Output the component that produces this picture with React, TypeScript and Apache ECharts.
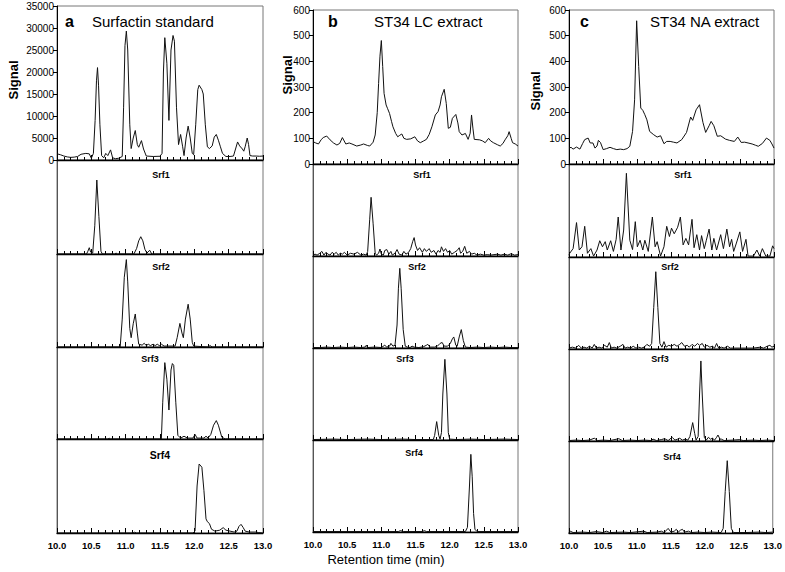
import React, { useEffect, useRef } from "react";
import * as echarts from "echarts";

// ---------- data (retention time, signal) ----------
const aTop: number[][] = [[10.0,1400],[10.05,1200],[10.1,900],[10.15,700],[10.2,600],[10.25,650],[10.3,800],[10.35,1300],[10.42,1500],[10.47,1400],[10.5,400],[10.53,1500],[10.555,9000],[10.575,18000],[10.59,21000],[10.605,17000],[10.625,8000],[10.65,1000],[10.68,500],[10.71,1500],[10.74,1000],[10.78,2300],[10.81,500],[10.85,300],[10.9,400],[10.95,800],[10.97,12000],[10.99,26000],[11.01,29300],[11.03,25000],[11.06,8000],[11.08,2600],[11.11,5000],[11.14,6700],[11.17,3500],[11.19,2900],[11.23,4400],[11.26,2500],[11.3,900],[11.4,800],[11.5,850],[11.53,1500],[11.55,20000],[11.57,27800],[11.6,22000],[11.63,9000],[11.66,25000],[11.69,28300],[11.71,27000],[11.74,12000],[11.77,3500],[11.8,5800],[11.83,3000],[11.85,1000],[11.88,5000],[11.91,7700],[11.94,5000],[11.97,1500],[11.99,1200],[12.02,8000],[12.05,16000],[12.07,17000],[12.11,16000],[12.13,15000],[12.16,8000],[12.19,3000],[12.22,2600],[12.26,3200],[12.29,5200],[12.32,5800],[12.35,4500],[12.38,3000],[12.41,1500],[12.46,800],[12.52,800],[12.57,900],[12.6,2500],[12.63,4100],[12.66,3200],[12.7,2500],[12.72,2000],[12.74,3000],[12.77,5000],[12.79,3500],[12.81,1000],[12.85,900],[12.9,900],[12.95,850],[13.0,900]];
const aSrf1: number[][] = [[10.0,0],[10.43,0],[10.45,3],[10.47,6.7],[10.49,2],[10.52,1],[10.55,30],[10.58,78.7],[10.61,40],[10.64,3],[10.66,0],[10.84,0],[10.86,1],[10.88,0],[11.12,0],[11.16,6],[11.19,14],[11.22,18.4],[11.25,14],[11.28,5],[11.31,1],[11.35,4],[11.38,0],[13.0,0]];
const aSrf2: number[][] = [[10.0,0],[10.92,0],[10.95,30],[10.98,75],[11.01,94],[11.03,70],[11.06,20],[11.08,10],[11.11,25],[11.14,35.5],[11.17,15],[11.19,3],[11.24,2],[11.27,4],[11.3,1.5],[11.33,3],[11.36,1.5],[11.4,3],[11.43,1.5],[11.46,3],[11.49,1.5],[11.52,3],[11.56,1],[11.72,1],[11.75,10],[11.79,25.4],[11.82,15],[11.84,10],[11.87,30],[11.91,46],[11.94,30],[11.97,5],[11.99,1],[12.2,0],[12.23,1.5],[12.26,0],[13.0,0]];
const aSrf3: number[][] = [[10.0,0],[10.74,0],[10.76,0.8],[10.78,0],[11.52,0],[11.54,40],[11.57,83],[11.6,65],[11.63,31.5],[11.66,75],[11.68,82],[11.7,80],[11.73,40],[11.76,4],[11.8,1],[11.85,3],[11.9,1],[11.98,1],[12.01,5],[12.04,1],[12.14,1],[12.17,3],[12.2,1],[12.24,5],[12.28,15],[12.32,20],[12.35,15],[12.4,2],[12.45,0],[13.0,0]];
const aSrf4: number[][] = [[10.0,0],[11.1,0],[11.13,0.8],[11.16,0],[11.98,0],[12.01,2],[12.04,50],[12.07,73.4],[12.11,70],[12.14,45],[12.17,15],[12.19,12],[12.22,10],[12.25,4],[12.3,2],[12.37,3],[12.42,5.7],[12.46,3],[12.52,2],[12.58,1],[12.62,2],[12.65,7],[12.68,9.2],[12.71,6],[12.74,2],[12.8,1],[12.9,1],[12.93,0.5],[13.0,0]];

const bTop: number[][] = [[10.0,87],[10.04,82],[10.08,78],[10.12,95],[10.15,103],[10.2,109],[10.25,94],[10.3,82],[10.35,74],[10.39,80],[10.43,103],[10.48,78],[10.53,82],[10.57,78],[10.64,70],[10.7,74],[10.74,78],[10.8,72],[10.83,70],[10.88,85],[10.91,113],[10.94,200],[10.96,314],[10.98,420],[11.0,481],[11.02,380],[11.04,275],[11.07,230],[11.09,217],[11.12,197],[11.15,165],[11.17,145],[11.21,119],[11.24,106],[11.27,112],[11.3,117],[11.33,100],[11.37,96],[11.43,98],[11.49,106],[11.53,90],[11.57,83],[11.62,90],[11.66,96],[11.7,115],[11.74,145],[11.79,191],[11.83,204],[11.86,230],[11.88,262],[11.92,291],[11.95,236],[11.98,139],[12.01,143],[12.04,178],[12.09,193],[12.12,160],[12.14,126],[12.18,113],[12.23,119],[12.27,96],[12.3,120],[12.32,191],[12.34,140],[12.36,96],[12.44,94],[12.48,90],[12.52,83],[12.57,100],[12.6,90],[12.64,83],[12.7,75],[12.74,70],[12.78,80],[12.81,94],[12.85,110],[12.87,126],[12.9,100],[12.92,83],[12.96,78],[13.0,70]];
const bSrf1: number[][] = [[10.0,1],[10.03,2],[10.06,1],[10.1,3],[10.13,5],[10.16,1],[10.19,4],[10.22,2],[10.25,1],[10.28,4],[10.31,2],[10.34,4],[10.37,1],[10.4,3],[10.43,2],[10.46,4],[10.5,1],[10.55,3],[10.6,2],[10.65,4],[10.7,1],[10.74,2],[10.78,1],[10.8,5],[10.83,40],[10.85,63.8],[10.88,35],[10.91,3],[10.93,1],[10.96,3],[10.98,7.6],[11.0,2],[11.03,1],[11.05,6],[11.08,7],[11.11,2],[11.14,5],[11.16,1],[11.2,3],[11.23,7],[11.26,2],[11.3,1],[11.33,5],[11.36,2],[11.4,4],[11.43,8],[11.46,16],[11.48,20],[11.5,12],[11.53,6],[11.56,9],[11.6,4],[11.63,8],[11.66,5],[11.7,8],[11.73,4],[11.77,6],[11.8,2],[11.83,6],[11.86,4],[11.88,10],[11.91,5],[11.94,8],[11.97,4],[12.0,6],[12.03,2],[12.07,4],[12.11,6],[12.14,9],[12.16,3],[12.19,5],[12.22,10.5],[12.25,3],[12.29,5],[12.32,2],[12.36,3],[12.4,1],[12.45,2],[12.5,1],[12.55,1.5],[12.6,1],[12.7,2],[12.75,1],[12.8,2],[12.85,1],[12.9,2.5],[12.95,1],[13.0,1.5]];
const bSrf2: number[][] = [[10.0,0.5],[10.1,0.5],[10.2,1],[10.3,0.5],[10.4,1],[10.5,0.5],[10.6,1],[10.7,0.5],[10.76,1],[10.78,3],[10.8,0.5],[10.9,1],[11.0,0.5],[11.05,3],[11.08,1],[11.12,2],[11.14,5],[11.17,2],[11.2,3],[11.23,25],[11.25,65],[11.27,86.6],[11.29,65],[11.32,20],[11.35,2],[11.38,1],[11.42,0.5],[11.45,2],[11.48,1],[11.55,0.5],[11.62,1.5],[11.66,3],[11.68,4],[11.71,1],[11.78,1],[11.82,2],[11.86,5],[11.89,6],[11.92,2],[11.97,2],[12.01,5],[12.04,10],[12.06,12],[12.09,3],[12.11,2],[12.14,12],[12.17,20],[12.2,8],[12.23,1],[12.3,0.5],[12.4,1],[12.5,0.5],[12.6,1],[12.7,0.5],[12.8,1],[12.9,0.5],[13.0,0.5]];
const bSrf3: number[][] = [[10.0,0.5],[10.3,1],[10.5,0.5],[10.8,1],[11.0,0.5],[11.3,1],[11.5,0.5],[11.76,0.5],[11.78,5],[11.81,20],[11.84,5],[11.86,1],[11.88,8],[11.9,50],[11.93,87.7],[11.96,50],[11.98,8],[12.0,1],[12.1,0.5],[12.3,1],[12.5,0.5],[12.8,1],[13.0,0.5]];
const bSrf4: number[][] = [[10.0,0.5],[10.5,0.5],[11.0,0.5],[11.25,0.5],[11.28,1.5],[11.32,0.5],[11.6,0.5],[11.63,1.5],[11.66,0.5],[12.23,0.5],[12.26,5],[12.29,50],[12.31,84.4],[12.33,60],[12.35,20],[12.37,3],[12.4,0.5],[13.0,0.5]];

const cTop: number[][] = [[10.0,62],[10.03,65],[10.06,58],[10.11,66],[10.16,58],[10.2,80],[10.23,95],[10.28,101],[10.31,82],[10.35,82],[10.38,62],[10.41,70],[10.43,92],[10.46,84],[10.5,56],[10.55,60],[10.6,65],[10.65,60],[10.7,56],[10.75,58],[10.8,56],[10.85,60],[10.89,69],[10.93,127],[10.96,250],[10.99,558],[11.02,380],[11.05,218],[11.08,209],[11.11,192],[11.14,172],[11.18,127],[11.24,114],[11.29,105],[11.34,110],[11.39,79],[11.43,88],[11.48,88],[11.53,85],[11.58,82],[11.65,95],[11.72,123],[11.78,183],[11.81,170],[11.86,211],[11.91,231],[11.96,162],[12.0,123],[12.05,149],[12.08,166],[12.12,149],[12.17,108],[12.22,110],[12.29,97],[12.35,92],[12.42,88],[12.47,105],[12.52,84],[12.57,85],[12.62,82],[12.68,78],[12.73,73],[12.77,69],[12.83,80],[12.89,101],[12.94,92],[12.97,78],[13.0,62]];
const cSrf1: number[][] = [[10.0,2],[10.01,4],[10.06,9],[10.11,37],[10.15,7.5],[10.19,11],[10.23,33],[10.27,4],[10.32,9],[10.36,1],[10.41,7.5],[10.45,17.5],[10.49,11],[10.53,16.5],[10.56,7.5],[10.61,17.5],[10.65,6],[10.69,19],[10.72,43],[10.76,7.5],[10.8,29],[10.84,90],[10.89,18],[10.93,8],[10.97,38],[11.0,11],[11.04,18],[11.08,7.5],[11.11,18],[11.16,6],[11.22,43],[11.26,11],[11.29,16.5],[11.34,1],[11.39,11],[11.43,33],[11.47,22],[11.5,31],[11.54,25],[11.59,32],[11.63,43],[11.67,13],[11.71,20],[11.75,13],[11.8,40.5],[11.83,10],[11.87,24],[11.91,7.5],[11.94,23],[11.98,9],[12.01,18],[12.05,30],[12.09,7.5],[12.12,20],[12.16,7.5],[12.22,24],[12.26,9],[12.31,30],[12.35,11],[12.38,19],[12.41,6],[12.45,15],[12.5,27],[12.54,6],[12.59,19],[12.62,1],[12.7,1],[12.75,7.5],[12.79,1],[12.83,9],[12.88,1],[12.94,1],[12.98,12],[13.0,9]];
const cSrf2: number[][] = [[10.0,1],[10.05,2],[10.1,1],[10.14,4],[10.18,1],[10.22,2],[10.26,1],[10.3,3],[10.34,1],[10.37,5],[10.4,1],[10.44,2],[10.48,1],[10.52,4],[10.56,2],[10.59,7],[10.62,1],[10.66,2],[10.7,1],[10.75,3],[10.79,5],[10.82,1],[10.86,2],[10.9,1],[10.94,3],[10.98,1],[11.02,2],[11.06,1],[11.1,2],[11.14,5],[11.18,3],[11.21,6],[11.24,45],[11.27,84],[11.3,45],[11.33,6],[11.36,2],[11.39,8],[11.42,2],[11.46,4],[11.5,3],[11.54,5],[11.58,3],[11.62,5],[11.65,7],[11.69,3],[11.73,4],[11.76,2],[11.8,5],[11.84,3],[11.88,6],[11.91,4],[11.95,6],[11.98,2],[12.02,4],[12.06,2],[12.1,3],[12.13,1],[12.16,6],[12.19,1],[12.23,2],[12.27,1],[12.32,3],[12.36,1],[12.42,1],[12.5,1],[12.6,1],[12.7,1],[12.8,2],[12.85,1],[12.9,3],[12.94,4],[12.97,2],[13.0,3]];
const cSrf3: number[][] = [[10.0,0.5],[10.1,1],[10.2,0.5],[10.3,1],[10.37,3],[10.42,0.5],[10.5,1],[10.6,0.5],[10.73,2.5],[10.78,0.5],[10.9,1],[11.0,0.5],[11.1,1],[11.2,0.5],[11.23,2],[11.28,0.5],[11.35,1.5],[11.4,2.5],[11.45,0.5],[11.51,4],[11.55,1],[11.59,2],[11.62,3],[11.66,1],[11.7,2],[11.74,1],[11.77,5],[11.81,20],[11.84,8],[11.86,1],[11.89,5],[11.91,50],[11.93,87],[11.95,50],[11.98,4],[12.01,1],[12.04,4],[12.07,2],[12.1,3],[12.13,1],[12.16,4],[12.18,6.5],[12.21,2],[12.23,2],[12.27,0.5],[12.4,1],[12.5,1.5],[12.55,0.5],[12.7,1],[12.8,0.5],[12.9,1],[13.0,0.5]];
const cSrf4: number[][] = [[10.0,0.5],[10.02,2],[10.06,0.5],[10.2,1],[10.3,0.5],[10.4,1.5],[10.5,0.5],[10.55,2],[10.6,0.5],[10.8,1],[10.9,0.5],[11.1,2],[11.15,0.5],[11.3,1],[11.36,2],[11.4,0.5],[11.46,5],[11.5,1],[11.55,2],[11.58,4],[11.61,1],[11.64,3],[11.67,4],[11.7,1],[11.76,2],[11.8,0.5],[11.9,1],[12.0,0.5],[12.1,1],[12.24,0.5],[12.27,5],[12.3,45],[12.33,78.6],[12.36,45],[12.39,5],[12.42,0.5],[12.6,0.5],[12.8,1],[12.9,0.5],[13.0,1]];

const panelTitles = ["Surfactin standard", "ST34 LC extract", "ST34 NA extract"];
const panelLetters = ["a", "b", "c"];
const srfNames = ["Srf1", "Srf2", "Srf3", "Srf4"];
const topMax = [35000, 600, 600];
const topInterval = [5000, 100, 100];
const xMin = 10;
const xMax = 13;
const xInterval = 0.5;
const xTitle = "Retention time (min)";
const yTitle = "Signal";

const traces = [
  [aTop, aSrf1, aSrf2, aSrf3, aSrf4],
  [bTop, bSrf1, bSrf2, bSrf3, bSrf4],
  [cTop, cSrf1, cSrf2, cSrf3, cSrf4],
];

// ---------- layout ----------
const FONT = "'Liberation Sans', Arial, sans-serif";
const cols = [
  { left: 57, width: 206, edges: [6, 160, 254, 347, 439, 533] },
  { left: 313, width: 205, edges: [10, 164, 256, 348, 440, 532] },
  { left: 569, width: 205, edges: [10, 164, 257, 349, 441, 533] },
];
const signalPos = [[13, 80], [287, 75], [535, 91]];
const letterX = [65, 328, 580];
const titleX = [92, 374, 650];
const srfPos = [
  [[161, 175], [161, 267], [150, 359], [160, 455]],
  [[422, 175], [417, 267], [405, 359], [414, 453]],
  [[683, 175], [670, 267], [660, 359], [672, 457]],
];

export default function App() {
  const ref = useRef<HTMLDivElement>(null);
  useEffect(() => {
    if (!ref.current) return;
    const chart = echarts.init(ref.current, undefined, { renderer: "svg" });
    const grid: any[] = [];
    const xAxis: any[] = [];
    const yAxis: any[] = [];
    const series: any[] = [];
    const graphic: any[] = [];
    cols.forEach((c, ci) => {
      for (let r = 0; r < 5; r++) {
        const idx = ci * 5 + r;
        const top = c.edges[r];
        const h = c.edges[r + 1] - top;
        grid.push({
          left: c.left, top, width: c.width, height: h,
          show: true, borderColor: "#777", borderWidth: 1,
          backgroundColor: "transparent",
        });
        xAxis.push({
          gridIndex: idx, type: "value", min: xMin, max: xMax, interval: xInterval,
          axisLine: { show: true, onZero: false, lineStyle: { color: "#000", width: 1.3 } },
          axisTick: { show: true, inside: true, length: 5, lineStyle: { color: "#000" } },
          minorTick: { show: true, splitNumber: 5, length: 3, lineStyle: { color: "#000" } },
          splitLine: { show: false },
          axisLabel: {
            show: r === 4, fontSize: 9.5, fontWeight: "bold", color: "#000",
            fontFamily: FONT, margin: 7,
            formatter: (v: number) => v.toFixed(1),
          },
        });
        if (r === 0) {
          yAxis.push({
            gridIndex: idx, type: "value", min: 0, max: topMax[ci], interval: topInterval[ci],
            axisLine: { show: true, lineStyle: { color: "#000" } },
            axisTick: { show: true, length: 4, lineStyle: { color: "#000" } },
            splitLine: { show: false },
            axisLabel: {
              fontSize: 10, color: "#000", fontFamily: FONT, margin: 3,
              formatter: (v: number) => String(v),
            },
          });
        } else {
          yAxis.push({
            gridIndex: idx, type: "value", min: 0, max: 100,
            axisLine: { show: true, lineStyle: { color: "#555" } },
            axisTick: { show: false }, axisLabel: { show: false }, splitLine: { show: false },
          });
        }
        series.push({
          type: "line", xAxisIndex: idx, yAxisIndex: idx,
          data: traces[ci][r], showSymbol: false, symbol: "none",
          lineStyle: { color: "#111", width: 1 }, silent: true,
        });
      }
      graphic.push({
        type: "text", x: signalPos[ci][0], y: signalPos[ci][1], rotation: Math.PI / 2,
        style: { text: yTitle, fontSize: 13, fontWeight: "bold", fontFamily: FONT, fill: "#000", align: "center", verticalAlign: "middle" },
      });
      graphic.push({
        type: "text", x: letterX[ci], y: 21,
        style: { text: panelLetters[ci], fontSize: 16, fontWeight: "bold", fontFamily: FONT, fill: "#000", align: "left", verticalAlign: "middle" },
      });
      graphic.push({
        type: "text", x: titleX[ci], y: 21,
        style: { text: panelTitles[ci], fontSize: 15, fontFamily: FONT, fill: "#000", align: "left", verticalAlign: "middle" },
      });
      srfNames.forEach((s, si) => {
        graphic.push({
          type: "text", x: srfPos[ci][si][0], y: srfPos[ci][si][1],
          style: { text: s, fontSize: ci === 0 && si === 3 ? 10.5 : 9, fontWeight: "bold", fontFamily: FONT, fill: "#000", align: "center", verticalAlign: "middle" },
        });
      });
    });
    graphic.push({
      type: "text", x: 386, y: 559,
      style: { text: xTitle, fontSize: 13, fontFamily: FONT, fill: "#000", align: "center", verticalAlign: "middle" },
    });
    chart.setOption({
      animation: false,
      backgroundColor: "#fff",
      textStyle: { fontFamily: FONT },
      grid, xAxis, yAxis, series, graphic,
    });
    return () => chart.dispose();
  }, []);
  return (
    <div
      ref={ref}
      style={{ position: "absolute", left: 0, top: 0, width: 785, height: 572 }}
    />
  );
}
